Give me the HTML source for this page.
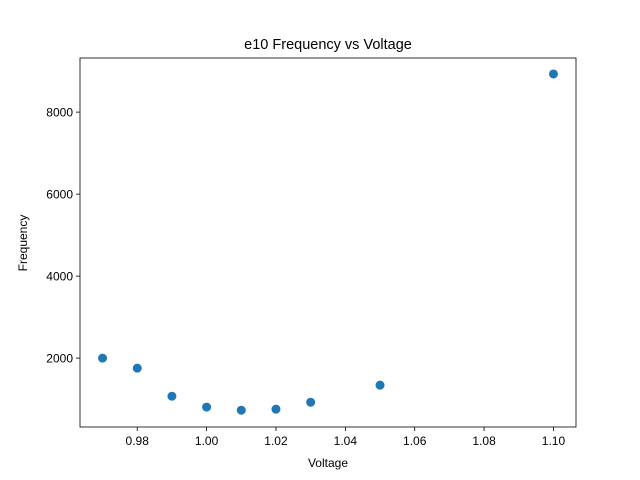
<!DOCTYPE html>
<html><head><meta charset="utf-8"><style>body{margin:0;background:#fff}svg{display:block;font-family:"Liberation Sans","DejaVu Sans",sans-serif}</style></head>
<body>
<svg id="chart" width="640" height="480"></svg>
<script>
const voltages=[0.97,0.98,0.99,1.00,1.01,1.02,1.03,1.05,1.10];
const frequencies=[2000,1755,1070,805,730,755,925,1340,8930];
const xTicks=[0.98,1.00,1.02,1.04,1.06,1.08,1.10];
const xTickLabels=["0.98","1.00","1.02","1.04","1.06","1.08","1.10"];
const yTicks=[2000,4000,6000,8000];
const yTickLabels=["2000","4000","6000","8000"];
const L=80,R=576,T=58,B=427;
const xMin=0.9635,xMax=1.1065,yMin=320,yMax=9320;
const sx=v=>L+(v-xMin)/(xMax-xMin)*(R-L);
const sy=v=>B-(v-yMin)/(yMax-yMin)*(B-T);
const svg=document.getElementById('chart');
const NS='http://www.w3.org/2000/svg';
function mk(tag,attrs,parent){const e=document.createElementNS(NS,tag);for(const k in attrs)e.setAttribute(k,attrs[k]);(parent||svg).appendChild(e);return e;}
let t=mk('text',{x:328,y:49,'text-anchor':'middle','font-size':14.5});t.textContent='e10 Frequency vs Voltage';


voltages.forEach((v,i)=>{const c=mk('circle',{cx:sx(v),cy:sy(frequencies[i]),r:4.5,fill:'#1f77b4'});

});
const frame=mk('rect',{x:L,y:T,width:R-L,height:B-T,fill:'none',stroke:'#000','stroke-width':0.8});


xTicks.forEach((v,i)=>{const x=sx(v);mk('line',{x1:x,x2:x,y1:B,y2:B+4,stroke:'#000','stroke-width':0.8});
const l=mk('text',{x:x,y:B+18,'text-anchor':'middle','font-size':12});l.textContent=xTickLabels[i];

});
yTicks.forEach((v,i)=>{const y=sy(v);mk('line',{x1:L-4,x2:L,y1:y,y2:y,stroke:'#000','stroke-width':0.8});
const l=mk('text',{x:L-7,y:y+4.5,'text-anchor':'end','font-size':12});l.textContent=yTickLabels[i];

});
const xl=mk('text',{x:328,y:467,'text-anchor':'middle','font-size':12});xl.textContent='Voltage';


const yl=mk('text',{x:27,y:243,'text-anchor':'middle','font-size':12,transform:'rotate(-90 27 243)'});yl.textContent='Frequency';


</script>
</body></html>
